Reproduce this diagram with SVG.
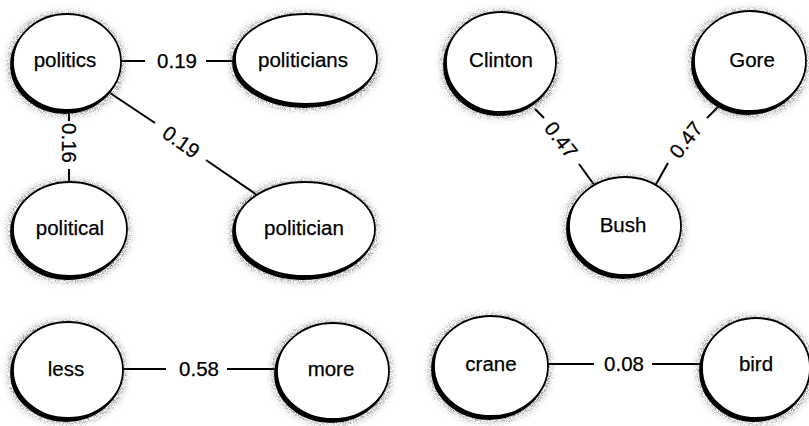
<svg xmlns="http://www.w3.org/2000/svg" width="809" height="426" viewBox="0 0 809 426">
<style>
  .n ellipse { fill: #fff; stroke: #000; stroke-width: 1.8; filter: url(#halo); }
  text { font-family: "Liberation Sans", Arial, Helvetica, sans-serif; font-size: 20.5px; fill: #000; stroke: #000; stroke-width: 0.25; text-anchor: middle; }
  .e line { stroke: #000; stroke-width: 2; }
</style>
<defs>
  <filter id="halo" x="-25%" y="-25%" width="150%" height="150%">
    <feMorphology in="SourceAlpha" operator="dilate" radius="3" result="d"/>
    <feGaussianBlur in="d" stdDeviation="3" result="b"/>
    <feOffset in="b" dx="-1" dy="2" result="bo"/>
    <feTurbulence type="fractalNoise" baseFrequency="1.4" numOctaves="1" seed="2" result="n"/>
    <feColorMatrix in="n" type="matrix" values="0 0 0 0 0  0 0 0 0 0  0 0 0 0 0  2.6 0 0 0 -0.95" result="nm"/>
    <feComposite in="bo" in2="nm" operator="in" result="g"/>
    <feFlood flood-color="#555" result="f"/>
    <feComposite in="f" in2="g" operator="in" result="gh"/>
    <feOffset in="SourceAlpha" dx="-2" dy="3" result="so"/>
    <feMerge>
      <feMergeNode in="gh"/>
      <feMergeNode in="so"/>
      <feMergeNode in="SourceGraphic"/>
    </feMerge>
  </filter>
</defs>
<rect width="809" height="426" fill="#fff"/>
<g id="connectors" class="e">
  <line x1="120" y1="61" x2="145" y2="61"/>
  <text x="177" y="68">0.19</text>
  <line x1="206" y1="61" x2="236" y2="61"/>

  <line x1="69" y1="108" x2="69" y2="121"/>
  <text x="69" y="150" transform="rotate(90 69 143)">0.16</text>
  <line x1="69" y1="169" x2="69" y2="183"/>

  <line x1="110" y1="93" x2="155" y2="123"/>
  <text x="181" y="149" transform="rotate(35 181 142)">0.19</text>
  <line x1="206" y1="160" x2="257" y2="195"/>

  <line x1="535" y1="109" x2="544" y2="118"/>
  <text x="561" y="147" transform="rotate(52 561 140)">0.47</text>
  <line x1="579" y1="164" x2="595" y2="186"/>

  <line x1="719" y1="106" x2="707" y2="118"/>
  <text x="686" y="147" transform="rotate(-52 686 140)">0.47</text>
  <line x1="668" y1="163" x2="655" y2="186"/>

  <line x1="121" y1="369" x2="166" y2="369"/>
  <text x="199" y="376">0.58</text>
  <line x1="227" y1="369" x2="278" y2="369"/>

  <line x1="547" y1="364" x2="594" y2="364"/>
  <text x="624" y="371">0.08</text>
  <line x1="652" y1="364" x2="703" y2="364"/>
</g>
<g id="node-politics" class="n"><ellipse cx="67" cy="62" rx="54" ry="48"/><text x="65" y="67">politics</text></g>
<g id="node-politicians" class="n"><ellipse cx="306" cy="59" rx="71" ry="45"/><text x="303" y="67">politicians</text></g>
<g id="node-political" class="n"><ellipse cx="70" cy="229" rx="57" ry="47"/><text x="70" y="235">political</text></g>
<g id="node-politician" class="n"><ellipse cx="305" cy="229" rx="70" ry="47"/><text x="304" y="235">politician</text></g>
<g id="node-clinton" class="n"><ellipse cx="501" cy="62" rx="55" ry="50"/><text x="501" y="67">Clinton</text></g>
<g id="node-gore" class="n"><ellipse cx="750" cy="61" rx="56" ry="50"/><text x="752" y="67">Gore</text></g>
<g id="node-bush" class="n"><ellipse cx="625" cy="226" rx="56" ry="49"/><text x="623" y="232">Bush</text></g>
<g id="node-less" class="n"><ellipse cx="68" cy="370" rx="55" ry="48"/><text x="66" y="376">less</text></g>
<g id="node-more" class="n"><ellipse cx="333" cy="371" rx="56" ry="48"/><text x="331" y="376">more</text></g>
<g id="node-crane" class="n"><ellipse cx="491" cy="366" rx="57" ry="50"/><text x="491" y="371">crane</text></g>
<g id="node-bird" class="n"><ellipse cx="756" cy="368" rx="54" ry="50"/><text x="756" y="371">bird</text></g>
</svg>
